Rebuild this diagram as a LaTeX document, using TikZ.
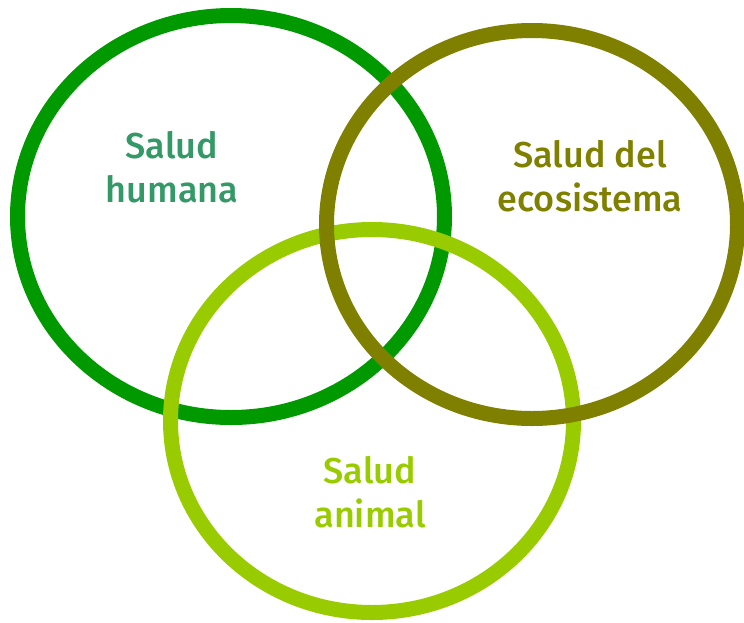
\documentclass[tikz,border=0pt]{standalone}
\usepackage{fontspec}
\setmainfont{Fira Sans}[BoldFont={Fira Sans Medium}]
\definecolor{humangreen}{HTML}{009900}
\definecolor{ecoolive}{HTML}{808000}
\definecolor{animalgreen}{HTML}{99CC00}
\definecolor{humantext}{HTML}{339966}
\tikzset{
  ring/.style={line width=7.5pt},
  label/.style={font=\fontsize{18}{22}\selectfont\bfseries,align=center,inner sep=0pt}
}
\begin{document}
\begin{tikzpicture}[x=0.5pt,y=-0.5pt]
            \useasboundingbox (0,0) rectangle (744,622);
            \draw [ring,humangreen] (231,216.5) ellipse [x radius=213.5, y radius=201];
            \draw [ring,animalgreen] (372,421) ellipse [x radius=201.5, y radius=191.5];
            \draw [ring,ecoolive] (532,224.5) ellipse [x radius=205.5, y radius=194];
            
            \node [label,text=humantext] (H) at (172,167) {Salud\\humana};
            \node [label,text=ecoolive] (E) at (590,176) {Salud del\\ecosistema};
            \node [label,text=animalgreen] (A) at (370,492) {Salud\\animal};
        \end{tikzpicture}
\end{document}
